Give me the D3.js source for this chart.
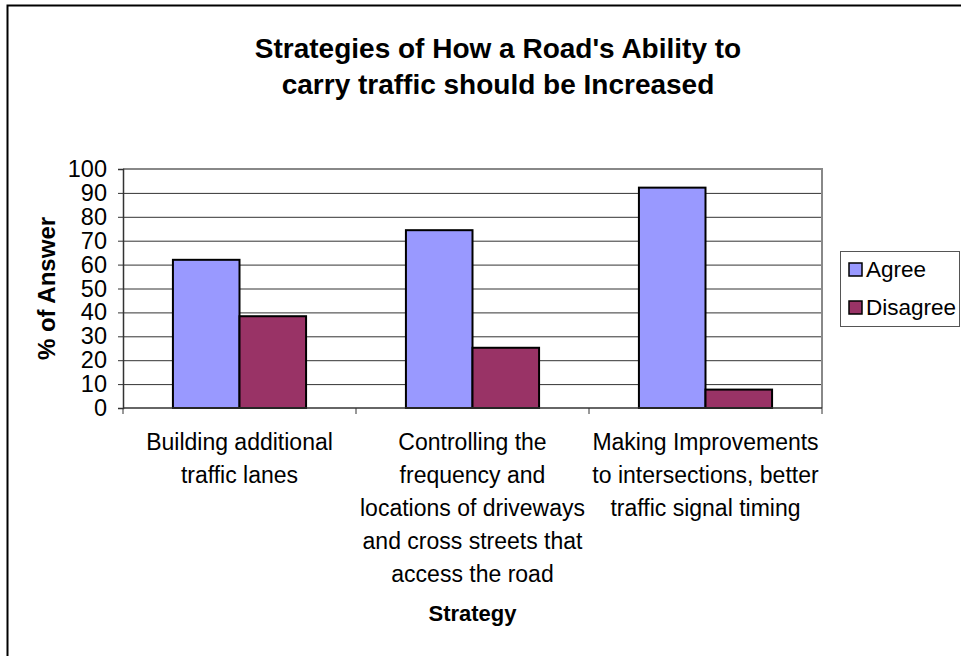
<!DOCTYPE html>
<html>
<head>
<meta charset="utf-8">
<script src="https://cdn.jsdelivr.net/npm/d3@7/dist/d3.min.js"></script>
<style>
  html, body { margin: 0; padding: 0; background: #fff; }
  svg { display: block; font-family: "Liberation Sans", Arial, sans-serif; }
</style>
</head>
<body>
<svg id="chart" width="961" height="656"></svg>
<script>
// Survey results: share of respondents agreeing / disagreeing with each strategy
const categories = [
  ["Building additional", "traffic lanes"],
  ["Controlling the", "frequency and", "locations of driveways", "and cross streets that", "access the road"],
  ["Making Improvements", "to intersections, better", "traffic signal timing"]
];
const seriesNames = ["Agree", "Disagree"];
const agree = [62, 74.4, 92.2];
const disagree = [38.4, 25.2, 7.7];
const yTicks = [0, 10, 20, 30, 40, 50, 60, 70, 80, 90, 100];
const titleLines = ["Strategies of How a Road's Ability to", "carry traffic should be Increased"];
const yTitle = "% of Answer";
const xTitle = "Strategy";

const colors = { Agree: "#9999FF", Disagree: "#993366" };

const svg = d3.select("#chart");

// Outer chart frame
svg.append("rect")
  .attr("x", 7.5).attr("y", 5.5)
  .attr("width", 1000).attr("height", 700)
  .attr("fill", "#fff").attr("stroke", "#000").attr("stroke-width", 2);

const plot = { left: 123, right: 822, top: 169, bottom: 408 };

const catKeys = categories.map((c, i) => i);
const x = d3.scaleBand().domain(catKeys).range([plot.left, plot.right]).paddingInner(0).paddingOuter(0);
const xs = d3.scaleBand().domain(seriesNames).range([0, x.bandwidth()]).paddingInner(0).paddingOuter(0.75);
const y = d3.scaleLinear().domain([0, 100]).range([plot.bottom, plot.top]);

// Gridlines
const grid = svg.append("g").attr("transform", `translate(${plot.left},0)`)
  .call(d3.axisLeft(y).tickValues(yTicks.slice(1)).tickSize(-(plot.right - plot.left)).tickFormat(""));
grid.select(".domain").remove();
grid.selectAll(".tick line").attr("stroke", "#333").attr("stroke-width", 1);

// Plot area border (top and right)
svg.append("path")
  .attr("d", `M${plot.left},${plot.top}H${plot.right}V${plot.bottom}`)
  .attr("fill", "none").attr("stroke", "#888").attr("stroke-width", 2);

// Bars
const rows = catKeys.map(i => ({ i, Agree: agree[i], Disagree: disagree[i] }));
const groups = svg.append("g").selectAll("g").data(rows).join("g")
  .attr("transform", d => `translate(${x(d.i)},0)`);
groups.selectAll("rect")
  .data(d => seriesNames.map(k => ({ k, v: d[k] })))
  .join("rect")
  .attr("x", d => xs(d.k))
  .attr("y", d => y(d.v))
  .attr("width", xs.bandwidth())
  .attr("height", d => y(0) - y(d.v))
  .attr("fill", d => colors[d.k])
  .attr("stroke", "#000").attr("stroke-width", 2);

// Y axis
const yAxis = svg.append("g").attr("transform", `translate(${plot.left},0)`)
  .call(d3.axisLeft(y).tickValues(yTicks).tickSize(5).tickPadding(11).tickFormat(d3.format("d")));
yAxis.select(".domain").attr("stroke", "#333").attr("stroke-width", 1.5);
yAxis.selectAll(".tick line").attr("stroke", "#333");
yAxis.selectAll(".tick text").attr("font-size", 23.5).attr("fill", "#000")
  .attr("font-family", "Liberation Sans, Arial, sans-serif");

// X axis with ticks between categories
const xAxis = svg.append("g");
xAxis.append("line")
  .attr("x1", plot.left).attr("x2", plot.right)
  .attr("y1", y(0)).attr("y2", y(0))
  .attr("stroke", "#333").attr("stroke-width", 1.5);
const bounds = catKeys.map(i => x(i)).concat([x.range()[1]]);
xAxis.selectAll("line.tk").data(bounds).join("line").attr("class", "tk")
  .attr("x1", d => d).attr("x2", d => d)
  .attr("y1", y(0)).attr("y2", y(0) + 6)
  .attr("stroke", "#333");

// Category labels
const lineH = 33;
const labels = svg.append("g").selectAll("text").data(catKeys).join("text")
  .attr("x", i => x(i) + x.bandwidth() / 2)
  .attr("y", 450)
  .attr("text-anchor", "middle")
  .attr("font-size", 23)
  .attr("fill", "#000");
labels.selectAll("tspan").data(i => categories[i].map(t => ({ t, cx: x(i) + x.bandwidth() / 2 })))
  .join("tspan")
  .attr("x", d => d.cx)
  .attr("dy", (d, j) => j === 0 ? 0 : lineH)
  .text(d => d.t);

// Axis titles
svg.append("text")
  .attr("x", (plot.left + plot.right) / 2).attr("y", 621)
  .attr("text-anchor", "middle").attr("font-size", 22).attr("font-weight", "bold")
  .text(xTitle);
svg.append("text")
  .attr("transform", `translate(55,${(plot.top + plot.bottom) / 2}) rotate(-90)`)
  .attr("text-anchor", "middle").attr("font-size", 24).attr("font-weight", "bold")
  .text(yTitle);

// Chart title
svg.append("text")
  .attr("text-anchor", "middle").attr("font-size", 28).attr("font-weight", "bold")
  .selectAll("tspan").data(titleLines).join("tspan")
  .attr("x", 498)
  .attr("y", (d, i) => 58 + i * 36)
  .text(d => d);

// Legend
const legend = svg.append("g");
legend.append("rect")
  .attr("x", 840.5).attr("y", 251.5).attr("width", 119).attr("height", 75)
  .attr("fill", "#fff").attr("stroke", "#555").attr("stroke-width", 1);
const li = legend.selectAll("g.item").data(seriesNames).join("g").attr("class", "item")
  .attr("transform", (d, i) => `translate(849,${263 + i * 38})`);
li.append("rect").attr("width", 13).attr("height", 13)
  .attr("fill", d => colors[d]).attr("stroke", "#000").attr("stroke-width", 1.5);
li.append("text").attr("x", 17).attr("y", 14).attr("font-size", 22.5).text(d => d);
</script>
</body>
</html>
